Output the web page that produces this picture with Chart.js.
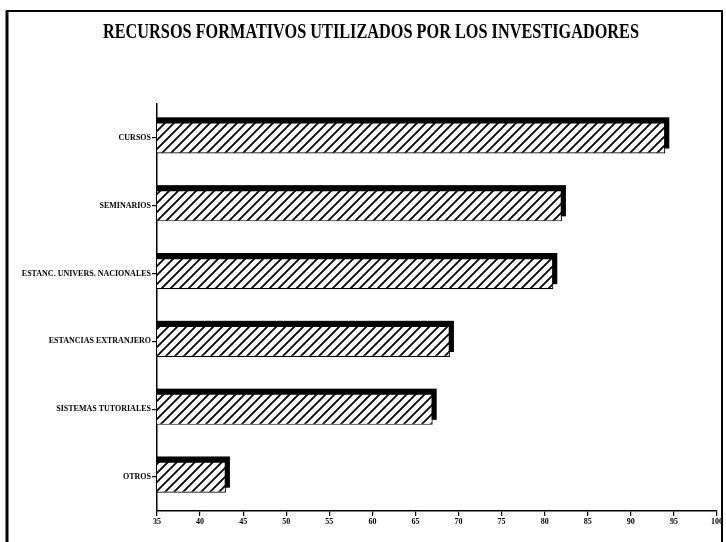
<!DOCTYPE html>
<html>
<head>
<meta charset="utf-8">
<script src="https://cdn.jsdelivr.net/npm/chart.js@4"></script>
<style>
  html, body { margin: 0; padding: 0; background: #fff; }
  #wrap { position: relative; width: 726px; height: 542px; }
</style>
</head>
<body>
<div id="wrap"><canvas id="chart" width="726" height="542"></canvas></div>
<script>

const TITLE = "RECURSOS FORMATIVOS UTILIZADOS POR LOS INVESTIGADORES";

const categories = [
  "CURSOS",
  "SEMINARIOS",
  "ESTANC. UNIVERS. NACIONALES",
  "ESTANCIAS EXTRANJERO",
  "SISTEMAS TUTORIALES",
  "OTROS"
];

const values = [94, 82, 81, 69, 67, 43];

const xMin = 35;
const xMax = 100;
const xStep = 5;

// diagonal hatch fill for the bars

function makeHatch(ctx) {

  const s = 9;
  const c = document.createElement("canvas");
  c.width = s;
  c.height = s;

  const g = c.getContext("2d");
  g.fillStyle = "#fff";
  g.fillRect(0, 0, s, s);
  g.strokeStyle = "#000";
  g.lineWidth = 1.8;
  g.beginPath();
  g.moveTo(-2, s + 2); g.lineTo(s + 2, -2);
  g.moveTo(-2, 2);     g.lineTo(2, -2);
  g.moveTo(s - 2, s + 2); g.lineTo(s + 2, s - 2);
  g.stroke();

  return ctx.createPattern(c, "repeat");
}

// page frame + title

const framePlugin = {
  id: "frame",
  beforeDraw(chart) {
    const ctx = chart.ctx;
    ctx.save();
    ctx.fillStyle = "#fff";
    ctx.fillRect(0, 0, chart.width, chart.height);
    ctx.strokeStyle = "#000";
    ctx.lineWidth = 2;
    ctx.beginPath();
    ctx.moveTo(7, 545);
    ctx.lineTo(7, 11);
    ctx.lineTo(722, 11);
    ctx.lineTo(722, 545);
    ctx.stroke();
    ctx.lineWidth = 3;
    ctx.beginPath();
    ctx.moveTo(7, 11);
    ctx.lineTo(7, 545);
    ctx.stroke();

    ctx.fillStyle = "#000";
    ctx.font = "bold 21px 'Liberation Serif', 'DejaVu Serif', serif";
    ctx.textAlign = "center";
    ctx.textBaseline = "middle";
    ctx.fillText(TITLE, 371, 33, 536);
    ctx.restore();
  }
};

// offset black block behind each bar (the 3d edge)

const shadowPlugin = {
  id: "barShadow",
  beforeDatasetsDraw(chart) {
    const ctx = chart.ctx;
    const meta = chart.getDatasetMeta(0);
    const left = chart.chartArea.left;
    ctx.save();
    ctx.fillStyle = "#000";
    meta.data.forEach(bar => {
      const p = bar.getProps(["x", "y", "height"], true);
      const top = p.y - p.height / 2;
      ctx.fillRect(left, top - 5, p.x + 4 - left, p.height);
    });
    ctx.restore();
  }
};

const canvas = document.getElementById("chart");
const ctx = canvas.getContext("2d");

const tickFont = {
  family: "'Liberation Serif', 'DejaVu Serif', serif",
  size: 8,
  weight: "bold"
};

new Chart(ctx, {

  type: "bar",

  data: {
    labels: categories,
    datasets: [
      {
        data: values,
        backgroundColor: makeHatch(ctx),
        borderColor: "#000",
        borderWidth: 1.2,
        borderSkipped: false,
        categoryPercentage: 1,
        barPercentage: 0.46
      }
    ]
  },

  options: {
    indexAxis: "y",
    responsive: false,
    animation: false,
    events: [],
    layout: {
      padding: { top: 104, right: 9, left: 0, bottom: 0 }
    },
    plugins: {
      legend: { display: false },
      title: { display: false },
      tooltip: { enabled: false }
    },
    scales: {
      x: {
        type: "linear",
        min: xMin,
        max: xMax,
        ticks: {
          stepSize: xStep,
          color: "#000",
          font: tickFont,
          padding: 1,
          maxRotation: 0
        },
        grid: {
          drawOnChartArea: false,
          drawTicks: true,
          tickLength: 5,
          color: "#000",
          lineWidth: 1.2
        },
        border: { display: true, color: "#000", width: 1.5 },
        afterFit(scale) { scale.height = 31; }
      },
      y: {
        ticks: {
          color: "#000",
          font: tickFont,
          padding: 1,
          autoSkip: false
        },
        grid: {
          drawOnChartArea: false,
          drawTicks: true,
          offset: false,
          tickLength: 5,
          color: "#000",
          lineWidth: 1.2
        },
        border: { display: true, color: "#000", width: 1.5 },
        afterFit(scale) { scale.width = 157; }
      }
    }
  },

  plugins: [framePlugin, shadowPlugin]

});

</script>
</body>
</html>
